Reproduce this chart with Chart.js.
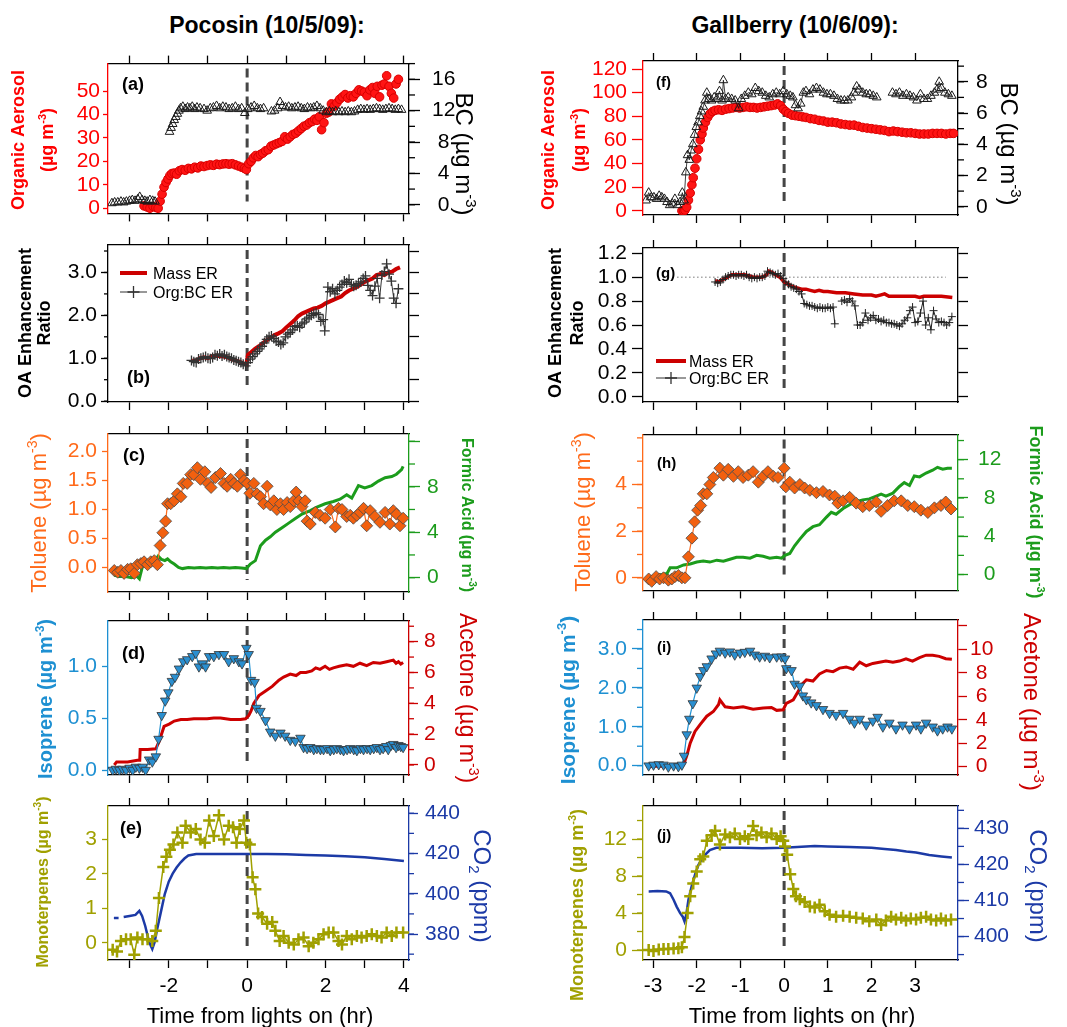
<!DOCTYPE html>
<html>
<head>
<meta charset="utf-8">
<title>Chamber burns: OA, BC and trace gases vs time from lights on</title>
<script src="https://cdn.jsdelivr.net/npm/chart.js@4.4.1/dist/chart.umd.min.js"></script>
<style>
  html, body { margin: 0; padding: 0; background: #fff; }
  #page { position: relative; width: 1067px; height: 1027px; overflow: hidden; background: #fff; }
  #page canvas { position: absolute; }
  .head { position: absolute; top: 10px; width: 400px; text-align: center; color: #000;
          font: bold 23px "Liberation Sans", Arial, sans-serif; line-height: 30px; }
</style>
</head>
<body>
<div id="page">
  <div class="head" style="left:67px">Pocosin (10/5/09):</div>
  <div class="head" style="left:595px">Gallberry (10/6/09):</div>
</div>
<script>
const FONT = '"Liberation Sans", Arial, sans-serif';

// time axis (hr from lights on)
const pocTicks = [-3, -2, -1, 0, 1, 2, 3, 4];
const pocTickLabels = [-2, 0, 2, 4];
const galTicks = [-3, -2, -1, 0, 1, 2, 3];
const galTickLabels = [-3, -2, -1, 0, 1, 2, 3];

// ---------- Pocosin ----------
// (a) organic aerosol (ug m-3) and BC (ug m-3)
const pocOaT = [-2.63,-2.55,-2.48,-2.40,-2.33,-2.27,-2.22,-2.17,-2.12,-2.07,
  -2.02,-1.97,-1.92,-1.86,-1.80,-1.73,-1.66,-1.58,-1.50,-1.42,
  -1.34,-1.26,-1.18,-1.10,-1.02,-0.94,-0.86,-0.78,-0.70,-0.62,
  -0.54,-0.46,-0.38,-0.30,-0.22,-0.14,-0.07,-0.02,0.04,0.10,
  0.16,0.22,0.28,0.34,0.40,0.47,0.54,0.61,0.68,0.75,
  0.82,0.89,0.96,1.03,1.10,1.17,1.24,1.31,1.38,1.45,
  1.52,1.59,1.66,1.72,1.78,1.84,1.90,1.96,2.02,2.08,
  2.15,2.22,2.29,2.36,2.43,2.50,2.57,2.64,2.71,2.78,
  2.85,2.92,2.99,3.06,3.13,3.20,3.26,3.32,3.38,3.44,
  3.50,3.56,3.62,3.68,3.74,3.80,3.86];
const pocOa = [1.0,0.5,0.0,0.8,0.3,0.0,3.0,6.0,9.0,11.0,
  12.5,14.0,14.8,15.0,14.5,16.0,16.5,16.2,17.0,16.8,
  17.5,17.2,18.0,17.8,18.2,18.5,18.3,18.8,18.6,18.9,
  19.0,18.8,19.0,18.5,18.0,17.5,17.0,16.5,19.0,20.0,
  21.5,22.5,22.0,23.0,23.5,24.5,25.0,26.5,27.0,27.5,
  28.0,28.5,30.5,29.5,30.5,31.5,32.0,33.0,34.0,35.0,
  35.5,36.5,37.0,38.0,37.5,39.0,33.5,36.5,40.5,41.0,
  44.5,43.5,45.0,46.5,47.5,48.5,47.0,48.0,47.5,49.0,
  50.5,50.0,49.5,48.0,50.5,51.5,49.0,52.0,47.5,52.5,
  53.0,56.5,52.0,49.0,47.0,53.0,55.0];
const pocBcT = [-3.45,-3.38,-3.30,-3.22,-3.15,-3.08,-3.00,-2.93,-2.86,-2.79,
  -2.74,-2.68,-2.61,-2.55,-2.48,-2.41,-2.35,
  -1.98,-1.94,-1.90,-1.86,-1.82,-1.78,-1.74,-1.70,-1.64,-1.58,
  -1.52,-1.46,-1.40,-1.34,-1.28,-1.20,-1.10,-1.02,-0.94,-0.86,
  -0.78,-0.70,-0.62,-0.54,-0.46,-0.38,-0.30,-0.22,-0.14,-0.06,
  0.02,0.10,0.18,0.26,0.34,0.42,0.62,0.70,0.78,0.84,
  0.90,0.98,1.06,1.14,1.22,1.30,1.38,1.46,1.54,1.62,
  1.70,1.78,1.86,1.94,2.02,2.10,2.18,2.26,2.34,2.42,
  2.50,2.58,2.66,2.74,2.82,2.90,2.98,3.06,3.14,3.22,
  3.30,3.38,3.46,3.54,3.62,3.70,3.78,3.86,3.94];
const pocBc = [0.2,0.3,0.3,0.4,0.3,0.4,0.5,0.6,0.5,0.7,
  1.0,0.6,0.5,0.4,0.6,0.5,0.4,
  9.3,9.8,10.3,10.8,11.2,11.6,12.0,12.3,12.5,12.2,
  12.4,12.3,12.5,12.2,12.4,12.3,12.2,12.0,12.3,12.4,
  12.6,12.3,12.5,12.4,12.2,12.3,12.5,12.2,12.3,11.7,
  12.2,12.4,12.6,12.3,12.2,12.3,11.9,12.0,12.3,13.1,
  12.6,12.4,12.5,12.3,12.4,12.5,12.3,12.2,12.4,12.3,
  12.4,12.6,12.3,12.0,11.8,11.9,11.8,11.9,11.8,11.9,
  11.8,11.9,11.8,11.9,12.1,12.2,12.1,12.2,12.1,12.2,
  12.3,12.2,12.1,12.2,12.3,12.2,12.1,12.2,12.1];

// (b) OA enhancement ratio
const pocMassT = [-1.40,-1.30,-1.20,-1.10,-1.00,-0.90,-0.80,-0.70,-0.60,-0.50,
  -0.40,-0.30,-0.20,-0.10,-0.02,0.02,0.10,0.20,0.30,0.40,
  0.50,0.60,0.70,0.80,0.90,1.00,1.10,1.20,1.30,1.40,
  1.50,1.60,1.70,1.80,1.90,2.00,2.10,2.20,2.30,2.40,
  2.50,2.60,2.70,2.80,2.90,3.00,3.10,3.20,3.30,3.40,
  3.50,3.60,3.70,3.80,3.90];
const pocMass = [0.94,0.95,1.00,1.02,1.00,1.04,1.06,1.05,1.04,1.02,
  0.98,0.95,0.92,0.88,0.86,1.08,1.14,1.22,1.28,1.35,
  1.42,1.48,1.54,1.58,1.63,1.72,1.80,1.88,1.98,2.04,
  2.08,2.12,2.16,2.18,2.22,2.28,2.32,2.36,2.40,2.44,
  2.52,2.58,2.62,2.66,2.72,2.78,2.82,2.86,2.94,2.96,
  2.94,3.00,3.02,3.08,3.12];
const pocOrgT = [-1.42,-1.36,-1.30,-1.24,-1.18,-1.12,-1.06,-1.00,-0.94,-0.88,
  -0.82,-0.76,-0.70,-0.64,-0.58,-0.52,-0.46,-0.40,-0.34,-0.28,
  -0.22,-0.16,-0.10,-0.04,0.02,0.08,0.14,0.20,0.26,0.32,
  0.38,0.44,0.50,0.56,0.62,0.68,0.74,0.80,0.86,0.92,
  0.98,1.04,1.10,1.16,1.22,1.28,1.34,1.40,1.46,1.52,
  1.58,1.64,1.70,1.76,1.82,1.88,1.94,1.98,2.06,2.12,
  2.18,2.24,2.30,2.36,2.42,2.48,2.54,2.60,2.66,2.72,
  2.78,2.84,2.90,2.96,3.02,3.08,3.14,3.20,3.26,3.32,
  3.38,3.44,3.50,3.56,3.62,3.68,3.74,3.80,3.86];
const pocOrg = [0.95,0.92,0.90,0.98,1.00,1.02,1.04,1.00,0.99,1.02,
  1.08,1.06,1.10,1.05,1.08,1.04,1.02,1.00,0.96,0.94,
  0.92,0.90,0.86,0.82,0.90,0.98,1.04,1.10,1.16,1.22,
  1.28,1.36,1.44,1.50,1.52,1.46,1.40,1.38,1.32,1.36,
  1.50,1.56,1.60,1.66,1.74,1.76,1.72,1.80,1.84,1.92,
  1.96,2.00,2.04,2.06,2.02,1.86,1.90,1.64,2.66,2.55,
  2.62,2.50,2.58,2.66,2.72,2.80,2.76,2.84,2.72,2.68,
  2.70,2.74,2.78,2.86,2.92,2.70,2.58,2.46,2.68,2.86,
  2.40,2.94,3.02,3.20,2.96,2.80,2.40,2.28,2.62];

// (c) toluene (ug m-3) and formic acid (ug m-3)
const pocTolT = [-3.39,-3.30,-3.22,-3.14,-3.05,-2.97,-2.88,-2.80,-2.71,-2.63,
  -2.54,-2.46,-2.37,-2.29,-2.22,-2.15,-2.08,-2.03,-1.95,-1.86,
  -1.78,-1.69,-1.63,-1.53,-1.44,-1.36,-1.27,-1.19,-1.08,-1.00,
  -0.92,-0.81,-0.68,-0.59,-0.51,-0.42,-0.34,-0.25,-0.17,-0.08,
  0.00,0.07,0.17,0.25,0.34,0.42,0.51,0.59,0.68,0.76,
  0.85,0.93,1.02,1.10,1.19,1.25,1.32,1.40,1.48,1.53,
  1.61,1.74,1.86,1.99,2.12,2.25,2.33,2.42,2.54,2.63,
  2.71,2.80,2.88,2.97,3.05,3.14,3.26,3.39,3.52,3.64,
  3.73,3.81,3.90,3.98];
const pocTol = [-0.05,-0.08,-0.05,-0.10,-0.03,-0.02,-0.10,0.05,0.07,0.10,
  0.05,0.10,0.12,0.05,0.38,0.60,0.80,1.10,1.10,1.15,
  1.27,1.22,1.45,1.45,1.60,1.60,1.72,1.52,1.65,1.45,
  1.38,1.55,1.62,1.45,1.40,1.52,1.45,1.40,1.60,1.50,
  1.45,1.28,1.45,1.27,1.22,1.10,1.40,1.08,1.15,1.00,
  1.10,1.00,1.12,1.05,1.15,1.30,1.15,1.05,1.15,0.80,
  0.75,0.95,0.90,0.85,1.00,0.70,1.02,1.00,0.88,0.90,
  0.85,0.90,0.95,1.02,0.72,0.98,0.88,0.78,0.95,0.75,
  0.98,0.92,0.72,0.85];
const pocForT = [-3.39,-3.25,-3.10,-2.95,-2.82,-2.75,-2.67,-2.54,-2.42,-2.33,
  -2.27,-2.18,-2.10,-2.03,-1.95,-1.86,-1.75,-1.65,-1.50,-1.35,
  -1.20,-1.05,-0.90,-0.75,-0.60,-0.45,-0.30,-0.15,-0.02,0.08,
  0.21,0.34,0.47,0.59,0.72,0.89,1.06,1.23,1.40,1.61,
  1.78,1.99,2.20,2.37,2.54,2.67,2.84,3.00,3.18,3.35,
  3.52,3.69,3.81,3.94,3.98];
const pocFor = [0.2,0.1,0.1,0.0,0.15,-0.1,1.0,1.5,1.4,1.6,
  1.9,1.6,1.5,1.65,1.4,1.2,0.9,0.8,0.9,0.85,
  0.9,0.85,0.9,0.85,0.9,0.85,0.9,0.85,0.8,1.2,
  1.5,2.8,3.3,3.6,4.0,4.4,4.8,5.2,5.6,5.9,
  6.2,6.5,6.7,6.9,7.3,7.0,8.1,7.9,8.1,8.5,
  8.8,8.9,9.1,9.5,9.8];

// (d) isoprene (ug m-3) and acetone (ug m-3)
const pocIsoT = [-3.43,-3.35,-3.26,-3.18,-3.09,-3.00,-2.92,-2.84,-2.75,-2.67,
  -2.59,-2.50,-2.42,-2.33,-2.26,-2.18,-2.09,-2.01,-1.92,-1.84,
  -1.74,-1.63,-1.53,-1.40,-1.31,-1.23,-1.14,-1.06,-0.97,-0.85,
  -0.72,-0.59,-0.47,-0.34,-0.21,-0.13,-0.02,0.04,0.10,0.19,
  0.24,0.34,0.47,0.59,0.72,0.85,0.97,1.10,1.23,1.36,
  1.44,1.53,1.61,1.70,1.78,1.87,1.95,2.04,2.12,2.21,
  2.29,2.38,2.46,2.55,2.63,2.72,2.80,2.89,2.97,3.06,
  3.14,3.23,3.31,3.39,3.47,3.55,3.60,3.67,3.73,3.80,
  3.86,3.92,3.98];
const pocIso = [0.00,0.01,0.00,0.01,0.00,0.02,0.00,0.03,0.02,0.03,
  0.00,0.10,0.08,0.13,0.30,0.53,0.67,0.75,0.86,0.90,
  0.98,1.05,1.07,1.10,1.13,1.00,1.03,1.00,1.10,1.10,
  1.12,1.12,1.05,1.08,1.05,1.03,1.18,1.12,0.87,0.85,
  0.60,0.57,0.48,0.37,0.33,0.36,0.33,0.29,0.28,0.31,
  0.22,0.21,0.22,0.20,0.21,0.20,0.20,0.21,0.19,0.20,
  0.21,0.20,0.19,0.20,0.21,0.20,0.19,0.21,0.20,0.21,
  0.20,0.21,0.22,0.20,0.21,0.23,0.20,0.24,0.25,0.22,
  0.24,0.23,0.22];
const pocAceT = [-3.39,-3.33,-3.05,-2.80,-2.74,-2.73,-2.54,-2.33,-2.25,-2.12,
  -1.99,-1.86,-1.69,-1.53,-1.36,-1.19,-1.02,-0.85,-0.68,-0.55,
  -0.42,-0.30,-0.17,-0.04,0.04,0.10,0.17,0.30,0.47,0.64,
  0.81,0.93,1.10,1.25,1.36,1.50,1.65,1.75,1.86,1.99,
  2.10,2.20,2.35,2.54,2.71,2.88,3.05,3.22,3.39,3.56,
  3.73,3.80,3.86,3.92,3.98];
const pocAce = [0.0,0.2,0.2,0.3,0.3,1.0,1.0,1.05,1.5,2.5,
  2.65,2.85,2.95,2.95,3.0,3.0,3.0,3.05,3.05,3.0,
  2.95,2.95,2.95,3.0,3.2,3.5,4.0,4.5,4.8,5.1,
  5.5,5.7,5.9,5.8,6.0,6.0,6.1,6.3,6.2,6.4,
  6.2,6.3,6.4,6.5,6.4,6.6,6.45,6.65,6.6,6.7,
  6.8,6.6,6.7,6.55,6.65];

// (e) monoterpenes (ug m-3) and CO2 (ppm)
const pocMonoT = [-3.43,-3.32,-3.22,-3.09,-2.97,-2.88,-2.80,-2.67,-2.54,-2.42,
  -2.33,-2.25,-2.14,-2.06,-1.97,-1.88,-1.78,-1.65,-1.57,-1.44,
  -1.31,-1.19,-1.08,-0.97,-0.85,-0.72,-0.59,-0.47,-0.36,-0.27,
  -0.19,-0.08,-0.02,0.07,0.14,0.21,0.28,0.38,0.51,0.64,
  0.72,0.83,0.93,1.06,1.19,1.31,1.44,1.57,1.69,1.82,
  1.95,2.08,2.20,2.33,2.42,2.54,2.67,2.80,2.92,3.05,
  3.18,3.31,3.43,3.56,3.69,3.81,3.98];
const pocMono = [-0.20,-0.25,0.05,0.10,0.10,-0.35,0.15,0.10,0.10,0.05,
  0.35,1.30,2.20,2.50,2.70,2.85,3.20,2.90,3.40,3.20,
  3.30,3.00,2.90,3.55,3.10,3.70,3.00,3.40,3.35,2.90,
  3.30,3.55,2.90,2.85,1.90,1.55,0.85,0.75,0.55,0.60,
  0.35,0.05,0.20,0.00,-0.05,0.10,0.15,-0.10,0.00,0.10,
  0.25,0.30,0.30,0.05,-0.05,0.20,0.10,0.20,0.15,0.20,
  0.25,0.20,0.15,0.30,0.20,0.30,0.30];
const pocCo2T = [-3.40,-3.28,-3.22,-3.15,-3.00,-2.85,-2.75,-2.68,-2.60,-2.50,
  -2.42,-2.36,-2.30,-2.20,-2.10,-2.00,-1.90,-1.80,-1.70,-1.60,
  -1.50,-1.30,-1.00,-0.50,0.00,0.50,1.00,1.50,2.00,2.50,
  3.00,3.50,4.00];
const pocCo2 = [388,388,null,388.5,389,389.5,391.5,389,384,376,
  372.5,376,382,391,400,406,410,413,415.5,417.5,
  419,419.8,419.8,419.8,419.8,419.8,419.6,419.3,419,418.6,
  418.2,417.3,416.3];

// ---------- Gallberry ----------
// (f) organic aerosol and BC
const galOaT = [-2.34,-2.30,-2.27,-2.23,-2.19,-2.15,-2.11,-2.08,-2.04,-2.00,
  -1.96,-1.92,-1.88,-1.85,-1.80,-1.75,-1.70,-1.64,-1.58,-1.50,
  -1.42,-1.34,-1.26,-1.18,-1.10,-1.02,-0.94,-0.86,-0.78,-0.70,
  -0.62,-0.54,-0.46,-0.38,-0.30,-0.22,-0.15,-0.08,-0.02,0.04,
  0.10,0.18,0.26,0.34,0.42,0.50,0.60,0.70,0.80,0.90,
  1.00,1.10,1.20,1.30,1.40,1.50,1.60,1.70,1.80,1.90,
  2.00,2.10,2.20,2.30,2.40,2.50,2.60,2.70,2.80,2.90,
  3.00,3.10,3.20,3.30,3.40,3.50,3.60,3.70,3.80,3.88];
const galOa = [0,0,0.5,3,9,15,22,28,36,44,
  52,60,65,70,75,79,82,84,85,85.5,
  85,86,86.5,87,87.5,87,87.5,88,87.5,87.5,
  87,87.5,88,88.5,89,89.5,90.5,89,86,84,
  82.5,81,80.5,80,79.5,79,78,77.5,76.5,76,
  75,75,74.5,73.5,73,72.5,72.5,71.5,70.5,70,
  69.5,69,68.5,68,67,67.5,67,66.5,66,66,
  65.5,65,65,65,65.5,65.5,65.5,65,65.5,65.5];
const galBcT = [-3.16,-3.10,-3.04,-2.98,-2.92,-2.86,-2.80,-2.74,-2.68,-2.62,
  -2.56,-2.50,-2.44,-2.38,-2.33,-2.29,-2.25,-2.21,-2.17,-2.13,
  -2.09,-2.05,-2.01,-1.97,-1.93,-1.89,-1.85,-1.81,-1.77,-1.72,
  -1.66,-1.60,-1.54,-1.48,-1.42,-1.39,-1.34,-1.28,-1.20,-1.12,
  -1.04,-0.98,-0.90,-0.82,-0.74,-0.66,-0.58,-0.50,-0.42,-0.34,
  -0.26,-0.18,-0.10,-0.02,0.06,0.14,0.20,0.26,0.32,0.38,
  0.44,0.50,0.58,0.66,0.74,0.82,0.90,0.98,1.06,1.14,
  1.22,1.30,1.38,1.46,1.54,1.60,1.66,1.72,1.80,1.88,
  1.96,2.04,2.12,2.30,2.48,2.56,2.64,2.72,2.80,2.88,
  2.96,3.04,3.12,3.20,3.28,3.36,3.44,3.50,3.55,3.60,
  3.68,3.76,3.84];
const galBc = [0.4,0.9,0.6,0.6,0.5,0.7,0.6,0.5,0.3,0.1,
  0.2,0.5,0.1,0.3,0.9,0.4,2.2,3.3,3.0,3.6,
  4.0,4.6,5.1,5.4,5.8,6.1,6.4,6.8,7.3,6.9,
  6.8,7.0,6.9,7.4,6.8,8.1,6.9,7.0,6.9,6.8,
  6.3,6.9,7.1,7.3,7.2,7.6,7.4,7.3,7.1,7.0,
  7.2,7.3,7.2,7.4,7.2,7.1,7.0,6.5,6.3,6.6,
  7.3,7.4,7.2,7.5,7.6,7.5,7.3,7.2,7.2,7.1,
  6.9,6.8,6.8,6.8,7.0,7.3,7.7,7.5,7.3,7.2,
  7.2,7.1,7.0,null,7.3,7.2,7.3,7.1,7.2,7.1,
  7.0,6.8,7.2,6.9,6.9,7.1,7.3,7.5,8.0,7.6,
  7.3,7.2,7.1];

// (g) OA enhancement ratio
const galMassT = [-1.58,-1.50,-1.40,-1.30,-1.20,-1.10,-1.00,-0.90,-0.80,-0.70,
  -0.60,-0.50,-0.40,-0.35,-0.28,-0.20,-0.10,0.00,0.10,0.20,
  0.30,0.40,0.50,0.60,0.70,0.80,0.90,1.00,1.20,1.40,
  1.60,1.80,2.00,2.10,2.20,2.30,2.40,2.60,2.80,3.00,
  3.10,3.20,3.40,3.60,3.85];
const galMass = [0.97,0.96,0.98,1.00,1.02,1.02,1.02,1.02,1.01,1.00,
  1.00,1.00,1.02,1.05,1.04,1.02,1.00,0.96,0.94,0.92,
  0.91,0.90,0.90,0.89,0.88,0.89,0.88,0.88,0.87,0.87,
  0.86,0.85,0.85,0.84,0.85,0.86,0.84,0.84,0.84,0.84,
  0.83,0.84,0.84,0.84,0.83];
const galOrgT = [-1.58,-1.52,-1.46,-1.40,-1.34,-1.28,-1.22,-1.16,-1.10,-1.04,
  -0.98,-0.92,-0.86,-0.80,-0.74,-0.68,-0.62,-0.56,-0.50,-0.44,
  -0.38,-0.32,-0.26,-0.20,-0.14,-0.08,-0.02,0.04,0.10,0.16,
  0.22,0.28,0.34,0.40,0.46,0.52,0.58,0.64,0.70,0.76,
  0.82,0.88,0.94,1.00,1.06,1.12,1.16,1.24,1.32,1.38,
  1.44,1.50,1.56,1.62,1.68,1.74,1.80,1.86,1.92,1.98,
  2.04,2.10,2.16,2.22,2.28,2.34,2.40,2.46,2.52,2.58,
  2.64,2.70,2.76,2.82,2.88,2.94,3.00,3.06,3.12,3.18,
  3.24,3.30,3.36,3.42,3.48,3.54,3.60,3.66,3.72,3.78,
  3.84];
const galOrg = [0.96,0.95,0.96,0.98,1.00,1.01,1.02,1.02,1.01,1.02,
  1.02,1.01,1.02,1.00,0.99,1.00,0.99,1.00,1.00,1.01,
  1.05,1.04,1.03,1.02,1.03,1.01,0.99,0.96,0.94,0.92,
  0.91,0.90,0.88,0.86,0.78,0.77,0.76,0.76,0.75,0.74,
  0.75,0.74,0.74,0.75,0.74,0.75,0.61,null,0.80,0.81,
  0.79,0.82,0.80,0.76,0.60,0.60,0.62,0.70,0.64,0.66,
  0.68,0.64,0.65,0.63,0.64,0.62,0.62,0.61,0.61,0.60,
  0.59,0.61,0.64,0.66,0.72,0.75,0.62,0.63,0.70,0.80,
  0.60,0.66,0.56,0.72,0.65,0.62,0.63,0.62,0.60,0.62,
  0.67];
const galRefT = [-2.45, 3.70];
const galRef = [1.0, 1.0];

// (h) toluene and formic acid
const galTolT = [-3.10,-3.03,-2.93,-2.85,-2.76,-2.65,-2.57,-2.50,-2.42,-2.34,
  -2.27,-2.19,-2.11,-2.05,-1.98,-1.91,-1.85,-1.77,-1.70,-1.62,
  -1.47,-1.39,-1.28,-1.16,-1.05,-0.94,-0.82,-0.71,-0.59,-0.48,
  -0.37,-0.25,-0.14,0.00,0.04,0.13,0.24,0.36,0.47,0.59,
  0.74,0.89,1.04,1.16,1.23,1.35,1.50,1.65,1.80,1.95,
  2.11,2.22,2.37,2.52,2.68,2.83,2.98,3.13,3.29,3.44,
  3.59,3.70,3.82];
const galTol = [-0.05,-0.15,0.05,-0.05,0.00,-0.10,-0.05,0.05,0.10,0.00,
  0.00,0.90,1.70,2.40,2.90,3.10,3.60,3.60,4.00,4.30,
  4.70,4.40,4.65,4.35,4.55,4.30,4.40,4.55,4.10,4.35,
  4.55,4.35,4.30,4.70,3.90,4.10,3.85,4.00,3.85,3.75,
  3.65,3.70,3.55,3.50,3.20,3.30,3.45,3.20,3.05,3.10,
  3.25,2.85,3.10,3.30,3.30,3.10,3.05,2.90,2.80,3.00,
  3.10,3.25,2.95];
const galForT = [-3.10,-2.95,-2.80,-2.68,-2.61,-2.46,-2.30,-2.15,-2.00,-1.85,
  -1.70,-1.54,-1.39,-1.24,-1.09,-0.94,-0.78,-0.63,-0.48,-0.33,
  -0.17,-0.06,0.02,0.13,0.24,0.36,0.51,0.66,0.81,0.97,
  1.08,1.19,1.35,1.50,1.65,1.80,1.95,2.11,2.22,2.33,
  2.49,2.64,2.75,2.87,2.98,3.10,3.25,3.40,3.51,3.63,
  3.74,3.84];
const galFor = [-0.3,-0.1,0.0,0.1,0.7,0.7,1.0,1.1,1.3,1.4,
  1.3,1.5,1.4,1.6,1.8,1.8,1.7,2.0,1.9,1.7,
  1.8,1.7,2.0,2.2,3.0,3.7,4.5,5.0,5.2,6.0,
  6.5,6.3,6.9,7.3,7.6,7.8,7.9,8.2,8.4,8.2,
  8.5,9.2,9.6,9.3,10.3,10.2,10.6,10.9,11.2,11.0,
  11.1,11.1];

// (i) isoprene and acetone
const galIsoT = [-3.10,-2.99,-2.87,-2.76,-2.65,-2.53,-2.42,-2.34,-2.29,-2.23,
  -2.17,-2.09,-2.00,-1.92,-1.85,-1.77,-1.66,-1.56,-1.47,-1.35,
  -1.24,-1.13,-1.01,-0.90,-0.78,-0.67,-0.56,-0.44,-0.33,-0.17,
  -0.06,0.02,0.05,0.17,0.24,0.36,0.43,0.51,0.62,0.74,
  0.89,1.04,1.19,1.35,1.50,1.61,1.73,1.88,2.03,2.14,
  2.26,2.41,2.56,2.71,2.87,3.02,3.13,3.25,3.40,3.51,
  3.63,3.74,3.84];
const galIso = [0.00,0.02,0.03,0.02,-0.03,0.00,-0.02,0.02,0.25,0.80,
  1.20,1.60,2.00,2.30,2.45,2.55,2.75,2.88,2.95,2.90,
  2.93,2.85,2.90,2.92,2.95,2.85,2.80,2.82,2.78,2.80,
  2.80,2.75,2.50,2.45,2.10,2.05,1.80,1.70,1.62,1.55,
  1.45,1.35,1.30,1.35,1.20,1.10,1.20,1.05,1.15,1.25,
  1.00,1.10,0.95,1.05,0.95,1.05,0.95,1.10,1.00,0.90,
  0.95,1.00,0.95];
const galAceT = [-3.10,-2.90,-2.68,-2.46,-2.30,-2.23,-2.15,-2.04,-1.92,-1.77,
  -1.62,-1.50,-1.47,-1.35,-1.16,-0.94,-0.71,-0.48,-0.29,-0.17,
  -0.02,0.05,0.21,0.32,0.40,0.51,0.66,0.81,0.97,1.12,
  1.27,1.42,1.58,1.73,1.88,2.03,2.18,2.33,2.49,2.64,
  2.79,2.94,3.10,3.25,3.40,3.55,3.70,3.84];
const galAce = [0.0,0.05,0.0,0.1,0.2,0.9,2.0,3.0,3.6,4.3,
  4.7,5.3,5.7,5.1,5.0,5.1,4.9,5.0,5.05,4.8,
  4.85,5.4,5.7,6.4,7.0,7.4,7.3,7.9,8.2,8.1,
  8.4,8.5,8.3,8.9,8.6,8.8,8.9,9.0,8.9,9.0,
  9.2,9.0,9.3,9.5,9.5,9.4,9.2,9.15];

// (j) monoterpenes and CO2
const galMonoT = [-3.10,-2.99,-2.87,-2.76,-2.65,-2.53,-2.42,-2.34,-2.28,-2.21,
  -2.15,-2.08,-2.00,-1.92,-1.85,-1.77,-1.66,-1.58,-1.47,-1.35,
  -1.24,-1.13,-1.01,-0.90,-0.82,-0.71,-0.63,-0.52,-0.40,-0.29,
  -0.17,-0.08,-0.02,0.02,0.07,0.14,0.21,0.27,0.36,0.47,
  0.59,0.70,0.81,0.93,1.04,1.19,1.35,1.50,1.65,1.80,
  1.95,2.11,2.22,2.33,2.45,2.56,2.68,2.79,2.90,3.02,
  3.13,3.25,3.36,3.48,3.59,3.70,3.82];
const galMono = [0.0,-0.1,0.05,0.1,0.1,0.15,0.2,0.3,1.4,4.0,
  5.8,7.2,8.5,9.8,10.1,11.8,12.4,12.9,11.4,12.5,
  12.2,12.6,12.0,12.3,12.0,13.4,12.4,12.7,12.2,12.6,
  12.0,12.3,11.8,11.2,10.3,8.2,6.6,5.8,5.5,5.2,
  4.7,4.6,4.9,4.2,3.8,3.6,3.7,3.6,3.5,3.4,
  3.1,3.3,2.7,3.2,3.6,3.3,3.5,3.2,3.4,3.3,
  3.5,3.6,3.3,3.2,3.4,3.2,3.3];
const galCo2T = [-3.10,-2.90,-2.70,-2.61,-2.53,-2.46,-2.38,-2.32,-2.28,-2.24,
  -2.19,-2.11,-2.03,-1.96,-1.85,-1.70,-1.55,-1.40,-1.00,-0.50,
  0.00,0.30,0.70,1.00,1.50,2.00,2.30,2.56,2.80,3.02,
  3.32,3.60,3.84];
const galCo2 = [412.5,412.6,412.5,412.0,410.2,408.3,406.5,405.5,404.2,406,
  410.2,414.3,417.5,419.9,422.2,424.0,424.6,424.6,424.6,424.5,
  424.6,424.8,425.1,425.0,424.8,424.6,424.3,424.0,423.6,423.3,
  422.6,422.2,421.9];

// ---------- styling ----------
const RED = '#ff0000', DRED = '#cc0000', ORANGE = '#ff6a1a', GREEN = '#1c9c1c',
      BLUE = '#1e90d2', OLIVE = '#a0a000', NAVY = '#1c3aa6', BLACK = '#000000';

const cols = [
  {left: 0,   width: 520, boxL: 108, boxR: 409, xMin: -3.55, xMax: 4.13, ticks: pocTicks, labels: pocTickLabels},
  {left: 530, width: 537, boxL: 643, boxR: 958, xMin: -3.23, xMax: 3.98, ticks: galTicks, labels: galTickLabels}
];

function pts(t, v) {
  return t.map((x, i) => ({x: x, y: v[i]}));
}

function stepTicks(min, max, step) {
  const out = [];
  for (let k = Math.ceil(min / step - 1e-9); k * step <= max + 1e-9; k++) out.push(+(k * step).toFixed(6));
  return out;
}

// dataset presets
function dots(label, t, v, axis, color) {
  return {label, data: pts(t, v), yAxisID: axis, xAxisID: 'x', showLine: false,
    pointStyle: 'circle', pointRadius: 4.3, pointBackgroundColor: color, pointBorderColor: '#d80000', pointBorderWidth: 1};
}
function openTri(label, t, v, axis, joined) {
  return {label, data: pts(t, v), yAxisID: axis, xAxisID: 'x', showLine: joined, borderColor: '#111', borderWidth: 0.8,
    spanGaps: false, pointStyle: 'triangle', pointRadius: 5, pointBackgroundColor: 'rgba(255,255,255,0)',
    pointBorderColor: '#1a1a1a', pointBorderWidth: 1};
}
function line(label, t, v, axis, color, width) {
  return {label, data: pts(t, v), yAxisID: axis, xAxisID: 'x', showLine: true, borderColor: color, borderWidth: width,
    pointRadius: 0, spanGaps: false, tension: 0};
}
function marked(label, t, v, axis, color, lw, style, r, fill, edge, ew, rot) {
  return {label, data: pts(t, v), yAxisID: axis, xAxisID: 'x', showLine: true, borderColor: color, borderWidth: lw,
    spanGaps: false, pointStyle: style, pointRadius: r, pointRotation: rot || 0,
    pointBackgroundColor: fill, pointBorderColor: edge, pointBorderWidth: ew};
}

// text with ^{sup} and _{sub} parts, optionally rotated
function rich(ctx, str, x, y, rot, size, bold, color, dy, align) {
  const parts = [];
  const re = /([\^_])\{([^}]*)\}/g;
  let last = 0, m;
  while ((m = re.exec(str)) !== null) {
    if (m.index > last) parts.push({t: str.slice(last, m.index), k: 0});
    parts.push({t: m[2], k: m[1] === '^' ? 1 : -1});
    last = re.lastIndex;
  }
  if (last < str.length) parts.push({t: str.slice(last), k: 0});
  const fontOf = k => (bold ? 'bold ' : '') + Math.round(k ? size * 0.62 : size) + 'px ' + FONT;
  let w = 0;
  parts.forEach(p => { ctx.font = fontOf(p.k); p.w = ctx.measureText(p.t).width; w += p.w; });
  ctx.save();
  ctx.translate(x, y);
  ctx.rotate(rot * Math.PI / 180);
  ctx.fillStyle = color;
  ctx.textAlign = 'left';
  ctx.textBaseline = 'alphabetic';
  let cx = align === 'left' ? 0 : -w / 2;
  const base = dy + size * 0.36;
  parts.forEach(p => {
    ctx.font = fontOf(p.k);
    const off = p.k > 0 ? -size * 0.42 : (p.k < 0 ? size * 0.22 : 0);
    ctx.fillText(p.t, cx, base + off);
    cx += p.w;
  });
  ctx.restore();
}

// ---------- panels ----------
const panels = [
  { col: 0, top: 61, bottom: 216, letter: {t: '(a)', x: 122, y: 84, size: 18},
    yL: {min: -2.2, max: 61.7, tmax: 50, step: 10, dec: 0, color: RED, tl: 5, pad: 3},
    yR: {min: -1.1, max: 18, step: 4, dec: 0, color: BLACK, tl: 11, pad: 12, minor: 2},
    titles: [
      {lines: ['Organic Aerosol', '(µg m^{-3})'], x: 18, y: 140, lh: 29, size: 18, bold: true, color: RED, rot: -90},
      {lines: ['BC (µg m^{-3})'], x: 465, y: 154, size: 24, color: BLACK, rot: 90}],
    datasets: [openTri('BC', pocBcT, pocBc, 'yR', false), dots('Organic Aerosol', pocOaT, pocOa, 'yL', '#ff1414')] },

  { col: 0, top: 245, bottom: 402, letter: {t: '(b)', x: 127, y: 377, size: 18},
    yL: {min: -0.02, max: 3.64, step: 1, dec: 1, color: BLACK, tl: 7, pad: 4, minor: 0.5},
    yR: {min: -0.02, max: 3.64, step: 0.5, labels: false, color: BLACK, tl: 10},
    titles: [{lines: ['OA Enhancement', 'Ratio'], x: 25, y: 323, lh: 19, size: 18, bold: true, color: BLACK, rot: -90}],
    legend: [{text: 'Mass ER', color: DRED, w: 4, x1: 120, x2: 147, y: 273, tx: 153},
             {text: 'Org:BC ER', color: '#333', w: 1, cross: true, x1: 120, x2: 147, y: 292, tx: 153}],
    datasets: [marked('Org:BC ER', pocOrgT, pocOrg, 'yL', '#333', 1, 'cross', 5, '#333', '#333', 1.3),
               line('Mass ER', pocMassT, pocMass, 'yL', DRED, 4)] },

  { col: 0, top: 434, bottom: 592, letter: {t: '(c)', x: 123, y: 455, size: 18},
    yL: {min: -0.42, max: 2.3, step: 0.5, dec: 1, color: ORANGE, tl: 6, pad: 5},
    yR: {min: -1.26, max: 12.64, step: 4, dec: 0, color: GREEN, tl: 11, pad: 7, minor: 2, hide: [12]},
    titles: [
      {lines: ['Toluene (µg m^{-3})'], x: 38, y: 513, size: 22, color: ORANGE, rot: -90},
      {lines: ['Formic Acid (µg m^{-3})'], x: 468, y: 515, size: 16, bold: true, color: GREEN, rot: 90}],
    datasets: [marked('Toluene', pocTolT, pocTol, 'yL', ORANGE, 1.2, 'rectRot', 6, '#f2600f', '#4a4a4a', 0.8),
               line('Formic Acid', pocForT, pocFor, 'yR', GREEN, 3)] },

  { col: 0, top: 621, bottom: 775, letter: {t: '(d)', x: 122, y: 653, size: 18},
    yL: {min: -0.048, max: 1.442, step: 0.5, dec: 1, color: BLUE, tl: 6, pad: 5},
    yR: {min: -0.65, max: 9.34, step: 2, dec: 0, color: DRED, tl: 9, pad: 6, minor: 1},
    titles: [
      {lines: ['Isoprene (µg m^{-3})'], x: 45, y: 699, size: 20, bold: true, color: BLUE, rot: -90},
      {lines: ['Acetone (µg m^{-3})'], x: 468, y: 698, size: 23, color: DRED, rot: 90}],
    datasets: [marked('Isoprene', pocIsoT, pocIso, 'yL', BLUE, 1.2, 'triangle', 5.5, '#2a8fd0', '#333', 0.8, 180),
               line('Acetone', pocAceT, pocAce, 'yR', DRED, 3)] },

  { col: 0, top: 806, bottom: 960, last: true, letter: {t: '(e)', x: 120, y: 828, size: 18},
    yL: {min: -0.5, max: 3.97, step: 1, dec: 0, color: OLIVE, tl: 6, pad: 5},
    yR: {min: 367.1, max: 443.6, step: 20, dec: 0, color: NAVY, tl: 9, pad: 7, minor: 10},
    titles: [
      {lines: ['Monoterpenes (µg m^{-3})'], x: 42, y: 882, size: 16, bold: true, color: OLIVE, rot: -90},
      {lines: ['CO_{2} (ppm)'], x: 483, y: 886, size: 24, color: NAVY, rot: 90},
      {lines: ['Time from lights on (hr)'], x: 260, y: 1015, size: 22, color: BLACK, rot: 0}],
    datasets: [marked('Monoterpenes', pocMonoT, pocMono, 'yL', OLIVE, 1.5, 'cross', 6, OLIVE, OLIVE, 2.5),
               line('CO2', pocCo2T, pocCo2, 'yR', NAVY, 2.5)] },

  { col: 1, top: 61, bottom: 215, letter: {t: '(f)', x: 656, y: 82, size: 15},
    yL: {min: -3.6, max: 126.8, step: 20, dec: 0, color: RED, tl: 11, pad: 5},
    yR: {min: -0.53, max: 9.33, step: 2, dec: 0, color: BLACK, tl: 10, pad: 8, minor: 1},
    titles: [
      {lines: ['Organic Aerosol', '(µg m^{-3})'], x: 548, y: 140, lh: 31, size: 18, bold: true, color: RED, rot: -90},
      {lines: ['BC (µg m^{-3})'], x: 1010, y: 144, size: 24, color: BLACK, rot: 90}],
    datasets: [openTri('BC', galBcT, galBc, 'yR', true), dots('Organic Aerosol', galOaT, galOa, 'yL', '#ff1414')] },

  { col: 1, top: 248, bottom: 402, letter: {t: '(g)', x: 656, y: 273, size: 15},
    yL: {min: -0.044, max: 1.244, step: 0.2, dec: 1, color: BLACK, tl: 11, pad: 5},
    yR: {min: -0.044, max: 1.244, step: 0.2, labels: false, color: BLACK, tl: 10},
    titles: [{lines: ['OA Enhancement', 'Ratio'], x: 555, y: 323, lh: 22, size: 18, bold: true, color: BLACK, rot: -90}],
    legend: [{text: 'Mass ER', color: DRED, w: 4, x1: 656, x2: 686, y: 361, tx: 689},
             {text: 'Org:BC ER', color: '#333', w: 1, cross: true, x1: 656, x2: 686, y: 378, tx: 689}],
    datasets: [marked('Org:BC ER', galOrgT, galOrg, 'yL', '#222', 1, 'cross', 4, '#222', '#222', 1),
               line('Mass ER', galMassT, galMass, 'yL', DRED, 3.5),
               Object.assign(line('ratio = 1', galRefT, galRef, 'yL', '#777', 1), {borderDash: [1.5, 2.5]})] },

  { col: 1, top: 434, bottom: 591, letter: {t: '(h)', x: 657, y: 463, size: 15},
    yL: {min: -0.54, max: 6.14, tmax: 4, step: 2, dec: 0, color: ORANGE, tl: 11, pad: 5, minor: 1},
    yR: {min: -1.66, max: 14.62, step: 4, dec: 0, color: GREEN, tl: 10, pad: 10, minor: 2},
    titles: [
      {lines: ['Toluene (µg m^{-3})'], x: 582, y: 512, size: 22, color: ORANGE, rot: -90},
      {lines: ['Formic Acid (µg m^{-3})'], x: 1036, y: 512, size: 18, bold: true, color: GREEN, rot: 90}],
    datasets: [marked('Toluene', galTolT, galTol, 'yL', ORANGE, 1.2, 'rectRot', 6, '#f2600f', '#4a4a4a', 0.8),
               line('Formic Acid', galForT, galFor, 'yR', GREEN, 3)] },

  { col: 1, top: 620, bottom: 775, letter: {t: '(i)', x: 657, y: 647, size: 15},
    yL: {min: -0.24, max: 3.745, step: 1, dec: 1, color: BLUE, tl: 11, pad: 5, minor: 0.5},
    yR: {min: -0.71, max: 12.5, step: 2, dec: 0, color: DRED, tl: 9, pad: 3, hide: [12]},
    titles: [
      {lines: ['Isoprene (µg m^{-3})'], x: 567, y: 700, size: 21, bold: true, color: BLUE, rot: -90},
      {lines: ['Acetone (µg m^{-3})'], x: 1033, y: 702, size: 24, color: DRED, rot: 90}],
    datasets: [marked('Isoprene', galIsoT, galIso, 'yL', BLUE, 1.2, 'triangle', 5.5, '#2a8fd0', '#333', 0.8, 180),
               line('Acetone', galAceT, galAce, 'yR', DRED, 3)] },

  { col: 1, top: 806, bottom: 960, last: true, letter: {t: '(j)', x: 657, y: 835, size: 15},
    yL: {min: -1.08, max: 15.57, step: 4, dec: 0, color: OLIVE, tl: 11, pad: 5, minor: 2},
    yR: {min: 393.5, max: 436.2, step: 10, dec: 0, color: NAVY, tl: 11, pad: 5, minor: 5},
    titles: [
      {lines: ['Monoterpenes (µg m^{-3})'], x: 577, y: 905, size: 18, bold: true, color: OLIVE, rot: -90},
      {lines: ['CO_{2} (ppm)'], x: 1039, y: 886, size: 24, color: NAVY, rot: 90},
      {lines: ['Time from lights on (hr)'], x: 802, y: 1015, size: 22, color: BLACK, rot: 0}],
    datasets: [marked('Monoterpenes', galMonoT, galMono, 'yL', OLIVE, 1.5, 'cross', 6, OLIVE, OLIVE, 2.5),
               line('CO2', galCo2T, galCo2, 'yR', NAVY, 2.5)] }
];

function xScale(col, pos, height, showLabels) {
  return {
    type: 'linear', axis: 'x', position: pos, min: col.xMin, max: col.xMax, bounds: 'data',
    afterFit: s => { s.height = height; },
    afterBuildTicks: s => { s.ticks = col.ticks.map(v => ({value: v})); },
    ticks: {display: showLabels, autoSkip: false, maxRotation: 0, padding: 6, color: BLACK,
            font: {family: FONT, size: 21}, callback: v => col.labels.includes(v) ? String(v) : ''},
    grid: {drawOnChartArea: false, drawTicks: true, tickLength: 8, tickColor: BLACK, tickWidth: 1.3},
    border: {display: true, color: BLACK, width: 1.3}
  };
}

function yScale(ax, side, width) {
  const ticks = stepTicks(ax.min, ax.tmax !== undefined ? ax.tmax : ax.max, ax.step);
  return {
    type: 'linear', axis: 'y', position: side, min: ax.min, max: ax.max, bounds: 'data',
    afterFit: s => { s.width = width; },
    afterBuildTicks: s => { s.ticks = ticks.map(v => ({value: v})); },
    ticks: {display: ax.labels !== false, autoSkip: false, padding: ax.pad || 4,
            crossAlign: side === 'right' ? 'center' : 'near', color: ax.color, font: {family: FONT, size: 21},
            callback: v => (ax.hide && ax.hide.includes(v)) ? '' : v.toFixed(ax.dec || 0)},
    grid: {drawOnChartArea: false, drawTicks: true, tickLength: ax.tl, tickColor: ax.color, tickWidth: 1.3},
    border: {display: true, color: ax.color, width: 1.3}
  };
}

// dashed "lights on" line, minor ticks, titles, panel letter, legend
function decor(p, ox, oy) {
  return {
    id: 'decor',
    beforeDatasetsDraw(chart) {
      const {ctx, chartArea: a} = chart;
      const x0 = chart.scales.x.getPixelForValue(0);
      ctx.save();
      ctx.strokeStyle = '#454545';
      ctx.lineWidth = 3;
      ctx.setLineDash([9, 5]);
      ctx.beginPath();
      ctx.moveTo(x0, a.top + 5);
      ctx.lineTo(x0, a.bottom - 12);
      ctx.stroke();
      ctx.restore();
    },
    afterDraw(chart) {
      const {ctx, chartArea: a} = chart;
      ctx.save();
      ['yL', 'yR'].forEach(id => {
        const ax = p[id];
        if (!ax.minor) return;
        const s = chart.scales[id];
        const x = id === 'yL' ? a.left : a.right;
        const len = Math.round(ax.tl * 0.55);
        ctx.strokeStyle = ax.color;
        ctx.lineWidth = 1.3;
        stepTicks(ax.min, ax.max, ax.minor).forEach(v => {
          const y = s.getPixelForValue(v);
          ctx.beginPath();
          ctx.moveTo(x, y);
          ctx.lineTo(id === 'yL' ? x - len : x + len, y);
          ctx.stroke();
        });
      });
      p.titles.forEach(t => t.lines.forEach((ln, i) =>
        rich(ctx, ln, t.x - ox, t.y - oy, t.rot, t.size, t.bold, t.color, i * (t.lh || 0))));
      rich(ctx, p.letter.t, p.letter.x - ox, p.letter.y - oy, 0, p.letter.size, true, BLACK, 0, 'left');
      (p.legend || []).forEach(it => {
        const y = it.y - oy, x1 = it.x1 - ox, x2 = it.x2 - ox;
        ctx.strokeStyle = it.color;
        ctx.lineWidth = it.w;
        ctx.beginPath();
        ctx.moveTo(x1, y);
        ctx.lineTo(x2, y);
        ctx.stroke();
        if (it.cross) {
          const cx = (x1 + x2) / 2;
          ctx.lineWidth = 1.3;
          ctx.beginPath();
          ctx.moveTo(cx - 6, y); ctx.lineTo(cx + 6, y);
          ctx.moveTo(cx, y - 6); ctx.lineTo(cx, y + 6);
          ctx.stroke();
        }
        rich(ctx, it.text, it.tx - ox, y, 0, 16, false, BLACK, 0, 'left');
      });
      ctx.restore();
    }
  };
}

function makePanel(p) {
  const col = cols[p.col];
  const top = p.top - 22;
  const bottomPad = p.last ? 67 : 22;
  const h = 22 + (p.bottom - p.top) + bottomPad;
  const cv = document.createElement('canvas');
  cv.width = col.width;
  cv.height = h;
  cv.style.left = col.left + 'px';
  cv.style.top = top + 'px';
  cv.style.width = col.width + 'px';
  cv.style.height = h + 'px';
  document.getElementById('page').appendChild(cv);
  new Chart(cv, {
    type: 'scatter',
    data: {datasets: p.datasets},
    options: {
      responsive: false,
      animation: false,
      devicePixelRatio: 1,
      events: [],
      layout: {padding: 0},
      plugins: {legend: {display: false}, tooltip: {enabled: false}},
      scales: {
        x: xScale(col, 'bottom', bottomPad, !!p.last),
        xTop: xScale(col, 'top', 22, false),
        yL: yScale(p.yL, 'left', col.boxL - col.left),
        yR: yScale(p.yR, 'right', col.left + col.width - col.boxR)
      }
    },
    plugins: [decor(p, col.left, top)]
  });
}

panels.forEach(makePanel);
</script>
</body>
</html>
